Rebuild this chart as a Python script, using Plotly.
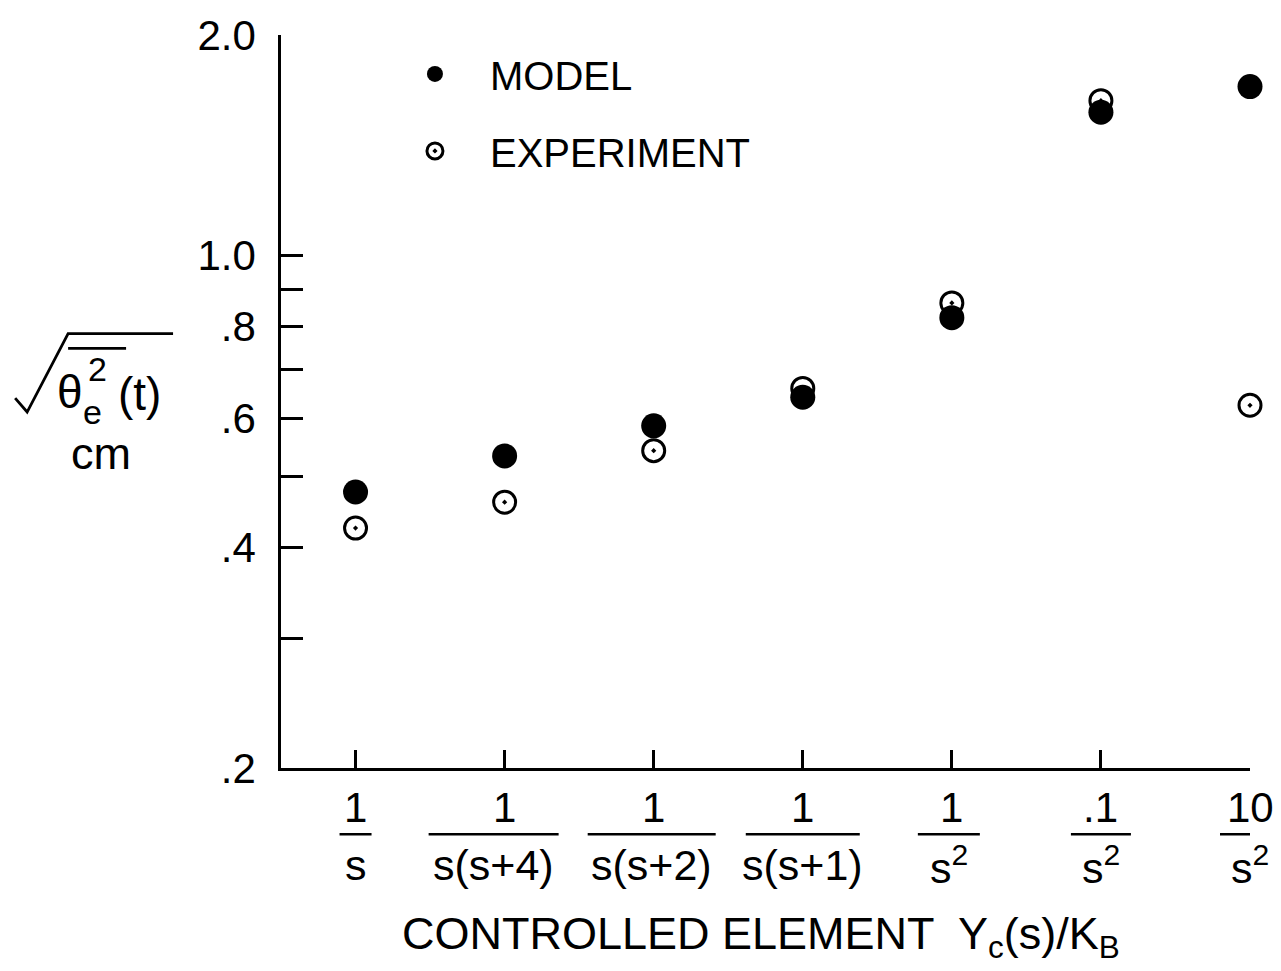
import plotly.graph_objects as go

# ---------------- data ----------------
categories = ["1/s", "1/s(s+4)", "1/s(s+2)", "1/s(s+1)", "1/s^2", ".1/s^2", "10/s^2"]
numerators = ["1", "1", "1", "1", "1", ".1", "10"]
denominators = ["s", "s(s+4)", "s(s+2)", "s(s+1)", "s<sup>2</sup>", "s<sup>2</sup>", "s<sup>2</sup>"]
model = [0.476, 0.533, 0.586, 0.641, 0.823, 1.569, 1.701]
experiment = [0.425, 0.461, 0.542, 0.659, 0.862, 1.627, 0.625]
y_tickvals = [0.2, 0.3, 0.4, 0.5, 0.6, 0.7, 0.8, 0.9, 1.0, 2.0]
y_ticktext = [".2", "", ".4", "", ".6", "", ".8", "", "1.0", "2.0"]

# ---------------- layout geometry (pixels) ----------------
WIDTH, HEIGHT = 1281, 971
L, T, R, B = 281, 30.5, 1250.5, 768.3
PW, PH = R - L, B - T
FONT = "Liberation Sans, Arial, sans-serif"


def fx(p):
    return (p - L) / PW


def fy(p):
    return (B - p) / PH


fig = go.Figure()

fig.add_trace(go.Scatter(
    x=categories, y=experiment, mode="markers", name="EXPERIMENT",
    legendgroup="e", legendrank=2, cliponaxis=False,
    marker=dict(symbol="circle-open-dot", size=22, color="black",
                line=dict(width=3, color="black")),
))
fig.add_trace(go.Scatter(
    x=categories, y=model, mode="markers", name="MODEL",
    legendgroup="m", legendrank=1, cliponaxis=False,
    marker=dict(symbol="circle", size=25, color="black",
                line=dict(width=0, color="black")),
))

annotations = []
shapes = []

# fraction tick labels (hand-lettered offsets / bar lengths in pixels)
bar_widths = [32, 130, 128, 114, 62, 60, 60]
label_shift = [0, -11, -2, 0, -3, 0, 0]
for i, cat in enumerate(categories):
    idx = categories.index(cat)
    annotations.append(dict(x=idx, y=fy(808), xref="x", yref="paper",
                            text=numerators[i], showarrow=False,
                            font=dict(size=42, family=FONT, color="black"),
                            xanchor="center", yanchor="middle"))
    annotations.append(dict(x=idx, y=fy(866), xref="x", yref="paper",
                            text=denominators[i], showarrow=False,
                            xshift=label_shift[i],
                            font=dict(size=43, family=FONT, color="black"),
                            xanchor="center", yanchor="middle"))
    shapes.append(dict(type="line", xref="x", yref="paper", xsizemode="pixel",
                       xanchor=idx, x0=-bar_widths[i] / 2 + label_shift[i],
                       x1=bar_widths[i] / 2 + label_shift[i],
                       y0=fy(835), y1=fy(835),
                       line=dict(color="black", width=2.5)))

# x-axis title
annotations.append(dict(x=fx(761), y=fy(938), xref="paper", yref="paper",
                        text="CONTROLLED ELEMENT  Y<sub>c</sub>(s)/K<sub>B</sub>",
                        showarrow=False,
                        font=dict(size=45, family=FONT, color="black"),
                        xanchor="center", yanchor="middle"))

# y-axis title: sqrt( mean( theta_e^2(t) ) ) cm
annotations += [
    dict(x=fx(70), y=fy(390), text="θ", font=dict(size=46, family=FONT, color="black")),
    dict(x=fx(97), y=fy(367), text="2", font=dict(size=34, family=FONT, color="black")),
    dict(x=fx(92), y=fy(410), text="e", font=dict(size=34, family=FONT, color="black")),
    dict(x=fx(139), y=fy(392), text="(t)", font=dict(size=46, family=FONT, color="black")),
    dict(x=fx(101), y=fy(452), text="cm", font=dict(size=45, family=FONT, color="black")),
]
for a in annotations[-5:]:
    a.update(xref="paper", yref="paper", showarrow=False,
             xanchor="center", yanchor="middle")

sqrt_pts = [(15, 396), (27, 410), (68, 331), (173, 331)]
path = "M " + " L ".join(f"{fx(px)},{fy(py)}" for px, py in sqrt_pts)
shapes.append(dict(type="path", xref="paper", yref="paper", path=path,
                   line=dict(color="black", width=2.8)))
shapes.append(dict(type="line", xref="paper", yref="paper",
                   x0=fx(68), x1=fx(126), y0=fy(346), y1=fy(346),
                   line=dict(color="black", width=2.8)))

fig.update_layout(
    width=WIDTH, height=HEIGHT,
    margin=dict(l=L, r=WIDTH - R, t=T, b=HEIGHT - B),
    paper_bgcolor="white", plot_bgcolor="white",
    font=dict(family=FONT, color="black", size=40),
    showlegend=True,
    legend=dict(x=fx(380), y=fy(37), xref="paper", yref="paper",
                xanchor="left", yanchor="top", traceorder="grouped",
                tracegroupgap=22, itemwidth=100,
                font=dict(size=40, family=FONT, color="black"),
                bgcolor="rgba(0,0,0,0)", borderwidth=0),
    annotations=annotations,
    shapes=shapes,
)

fig.update_xaxes(
    type="category", categoryorder="array", categoryarray=categories,
    range=[-0.5, len(categories) - 1],
    showgrid=False, zeroline=False, showline=True, linecolor="black", linewidth=2.5,
    ticks="inside", ticklen=18, tickwidth=2.5, tickcolor="black",
    showticklabels=False,
)
fig.update_yaxes(
    type="log", range=[-0.69897, 0.30103],
    showgrid=False, zeroline=False, showline=True, linecolor="black", linewidth=2.5,
    ticks="inside", ticklen=22, tickwidth=2.5, tickcolor="black",
    tickmode="array", tickvals=y_tickvals, ticktext=y_ticktext,
    tickfont=dict(size=42, family=FONT, color="black"),
    ticklabelstandoff=14,
)

fig.write_html("out.html")
